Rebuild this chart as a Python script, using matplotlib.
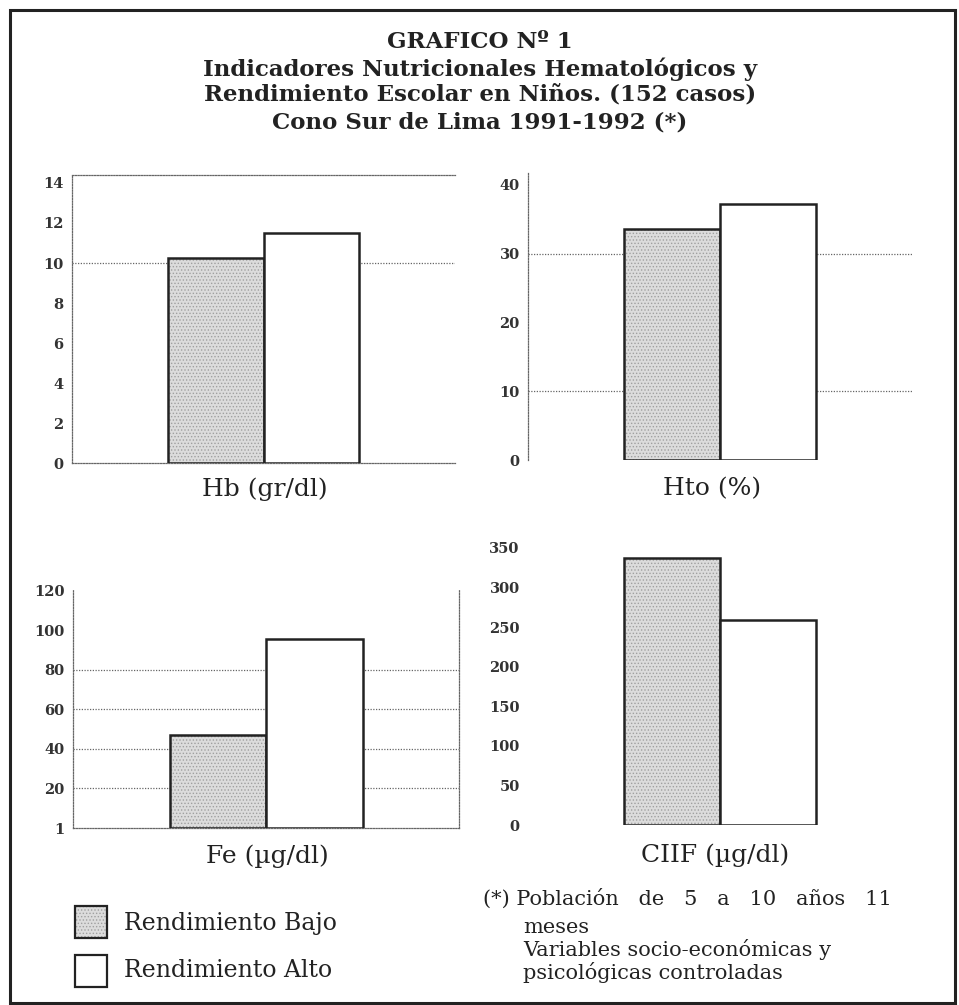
import matplotlib.pyplot as plt
from matplotlib.patches import Rectangle

plt.rcParams['font.family'] = ['DejaVu Serif']
plt.rcParams['hatch.linewidth'] = 0.6

W, H = 959, 1005

# datos (Rendimiento Bajo, Rendimiento Alto)
grupos = ["Rendimiento Bajo", "Rendimiento Alto"]
hb = [10.25, 11.5]
hto = [33.5, 37.2]
fe = [47, 95.5]
ciif = [337, 259]

hb_ticks = [0, 2, 4, 6, 8, 10, 12, 14]
hto_ticks = [0, 10, 20, 30, 40]
fe_ticks = [0, 20, 40, 60, 80, 100, 120]
fe_ticklabels = ["1", "20", "40", "60", "80", "100", "120"]
ciif_ticks = [0, 50, 100, 150, 200, 250, 300, 350]

etiquetas = ["Hb (gr/dl)", "Hto (%)", "Fe (µg/dl)", "CIIF (µg/dl)"]

titulo = ["GRAFICO Nº 1",
          "Indicadores Nutricionales Hematológicos y",
          "Rendimiento Escolar en Niños. (152 casos)",
          "Cono Sur de Lima 1991-1992 (*)"]

nota = ["(*) Población   de   5   a   10   años   11",
        "meses",
        "Variables socio-económicas y",
        "psicológicas controladas"]

gris = '#dcdcdc'
punteado = (0, (1, 1.2))


def fx(x):
    return x / W


def fy(y):
    return 1 - y / H


def panel(caja, valores, ylim, ticks, ticklabels, lineas_grid, bordes):
    l, t, r, b = caja
    ax = fig.add_axes([fx(l), fy(b), (r - l) / W, (b - t) / H])
    ax.set_xlim(-2, 2)
    ax.set_ylim(*ylim)
    for yv in lineas_grid:
        ax.axhline(yv, color='#666666', lw=0.9, ls=punteado, zorder=0)
    x = [-0.5, 0.5]
    # barra baja: relleno gris punteado
    ax.bar(x[0], valores[0], width=1, color=gris, edgecolor='#a0a0a0',
           hatch='.....', linewidth=0, zorder=2)
    ax.bar(x[0], valores[0], width=1, fill=False, edgecolor='#222222',
           linewidth=1.8, zorder=3)
    ax.bar(x[1], valores[1], width=1, color='white', edgecolor='#222222',
           linewidth=1.8, zorder=3)
    for lado in ['left', 'right', 'top', 'bottom']:
        sp = ax.spines[lado]
        if lado in bordes:
            sp.set_linestyle(punteado)
            sp.set_color('#666666')
            sp.set_linewidth(0.9)
        else:
            sp.set_visible(False)
    ax.set_xticks([])
    ax.set_yticks(ticks)
    ax.set_yticklabels(ticklabels if ticklabels else [str(v) for v in ticks],
                       fontsize=10.5, fontweight='bold', color='#333333')
    ax.tick_params(axis='y', length=0, pad=6)
    ax.patch.set_alpha(0)
    return ax


fig = plt.figure(figsize=(W / 100, H / 100), dpi=100)

# marco exterior
fig.patches.append(Rectangle((fx(10), fy(1003)), (955 - 10) / W, (1003 - 10) / H,
                             transform=fig.transFigure, fill=False,
                             edgecolor='#222222', linewidth=2.2))

# titulo
base_titulo = [48, 76, 101, 128]
for linea, yb in zip(titulo, base_titulo):
    fig.text(fx(480), fy(yb), linea, ha='center', va='baseline',
             fontsize=16.5, fontweight='bold', color='#222222')

panel((72, 175, 455, 463), hb, (0, 14.4), hb_ticks, None, [10], ['left', 'top', 'bottom'])
panel((528, 173, 912, 460), hto, (0, 41.7), hto_ticks, None, [10, 30], ['left'])
panel((73, 590, 459, 828), fe, (0, 120.5), fe_ticks, fe_ticklabels,
      [20, 40, 60, 80], ['left', 'right', 'bottom'])
panel((528, 544, 912, 825), ciif, (0, 355), ciif_ticks, None, [], [])

# nombres de cada indicador
pos_etiquetas = [(265, 489), (712, 489), (267, 856), (715, 855)]
for txt, (xp, yp) in zip(etiquetas, pos_etiquetas):
    fig.text(fx(xp), fy(yp), txt, ha='center', va='center', fontsize=18,
             color='#222222')

# leyenda
fig.patches.append(Rectangle((fx(75), fy(938)), 32 / W, 32 / H, transform=fig.transFigure,
                             facecolor=gris, edgecolor='#a0a0a0', hatch='.....', linewidth=0))
fig.patches.append(Rectangle((fx(75), fy(938)), 32 / W, 32 / H, transform=fig.transFigure,
                             fill=False, edgecolor='#222222', linewidth=1.6))
fig.patches.append(Rectangle((fx(75), fy(987)), 32 / W, 32 / H, transform=fig.transFigure,
                             facecolor='white', edgecolor='#222222', linewidth=1.6))
fig.text(fx(124), fy(930), grupos[0], ha='left', va='baseline', fontsize=17, color='#222222')
fig.text(fx(124), fy(977), grupos[1], ha='left', va='baseline', fontsize=17, color='#222222')

# nota al pie
pos_nota = [(483, 905), (523, 933), (523, 956), (523, 979)]
for txt, (xp, yp) in zip(nota, pos_nota):
    fig.text(fx(xp), fy(yp), txt, ha='left', va='baseline', fontsize=15, color='#222222')

fig.savefig("out.png", dpi=100, facecolor='white')
